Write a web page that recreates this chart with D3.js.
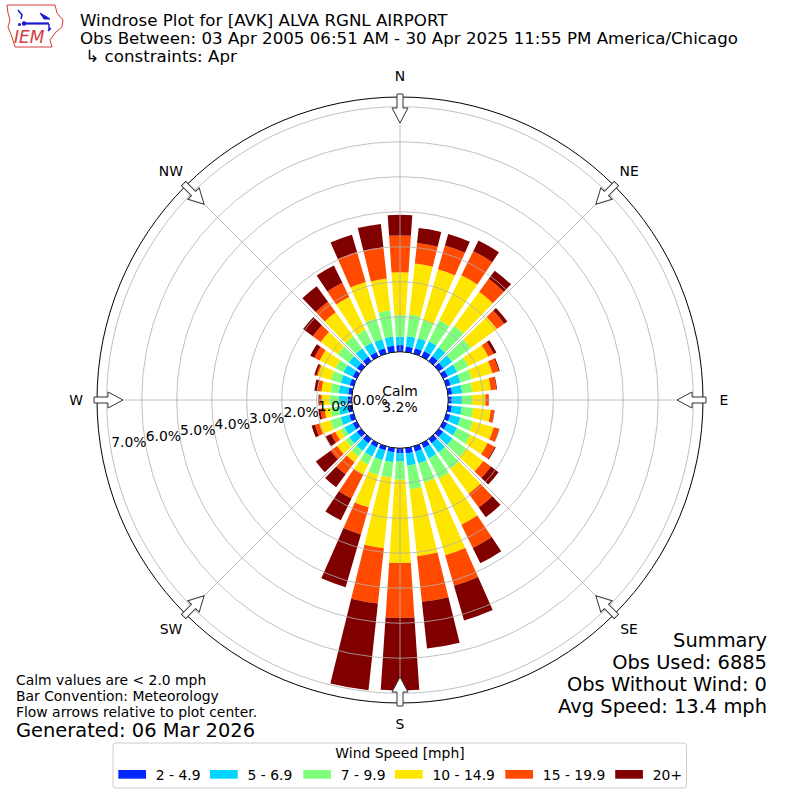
<!DOCTYPE html>
<html>
<head>
<meta charset="utf-8">
<script src="https://cdn.jsdelivr.net/npm/d3@7"></script>
<style>
  html, body { margin: 0; padding: 0; background: #fff; }
  svg text { font-family: "DejaVu Sans", sans-serif; fill: #000; }
</style>
</head>
<body>
<svg id="chart" width="800" height="800"></svg>
<script>
// ---------------- DATA ----------------
const directions = [0,10,20,30,40,50,60,70,80,90,100,110,120,130,140,150,160,170,
                    180,190,200,210,220,230,240,250,260,270,280,290,300,310,320,330,340,350];
const speedBins = ["2 - 4.9", "5 - 6.9", "7 - 9.9", "10 - 14.9", "15 - 19.9", "20+"];
// percent of observations per direction, per speed bin
const pct2to5 = [0.19,0.16,0.16,0.18,0.18,0.16,0.15,0.13,0.12,0.10,0.11,0.12,0.13,0.15,0.15,0.15,0.16,0.16,
                 0.14,0.12,0.12,0.13,0.15,0.15,0.13,0.13,0.12,0.11,0.11,0.12,0.13,0.15,0.15,0.15,0.16,0.18];
const pct5to7 = [0.24,0.29,0.30,0.31,0.31,0.31,0.29,0.29,0.29,0.29,0.29,0.30,0.31,0.33,0.33,0.33,0.34,0.34,
                 0.24,0.29,0.29,0.29,0.27,0.27,0.26,0.26,0.26,0.26,0.27,0.27,0.29,0.29,0.30,0.29,0.27,0.26];
const pct7to10 = [0.62,0.63,0.53,0.67,0.76,0.66,0.36,0.34,0.29,0.29,0.32,0.37,0.43,0.49,0.57,0.64,0.57,0.69,
                  0.52,0.44,0.44,0.26,0.20,0.14,0.12,0.31,0.24,0.26,0.24,0.29,0.26,0.39,0.43,0.42,0.62,0.75];
const pct10to15 = [1.22,1.46,1.52,1.43,1.20,0.92,0.63,0.61,0.53,0.38,0.51,0.62,0.54,0.60,0.89,1.47,2.17,1.92,
                   2.38,2.03,0.97,0.31,0.20,0.29,0.17,0.32,0.17,0.23,0.26,0.39,0.50,0.60,0.85,1.04,1.08,0.92];
const pct15to20 = [1.05,0.59,0.71,0.77,0.46,0.26,0.17,0.19,0.16,0.09,0.10,0.16,0.23,0.27,0.49,0.74,0.91,1.31,
                   1.57,1.59,0.80,0.77,0.43,0.23,0.14,0.13,0.12,0.06,0.11,0.04,0.17,0.28,0.37,0.45,0.89,0.90];
const pct20plus = [0.59,0.43,0.34,0.34,0.29,0.11,0.09,0.03,0.02,0.01,0.01,0.01,0.03,0.27,0.34,0.49,1.03,1.34,
                   2.07,2.49,1.57,0.69,0.46,0.52,0.17,0.10,0.06,0.03,0.09,0.06,0.13,0.34,0.55,0.55,0.52,0.67];
const radialTicks = [0,1,2,3,4,5,6,7];
const compassLabels = ["N","NE","E","SE","S","SW","W","NW"];
const compassAngles = [0,45,90,135,180,225,270,315];
const calmPct = 3.2;
const titleLines = ["Windrose Plot for [AVK] ALVA RGNL AIRPORT",
                    "Obs Between: 03 Apr 2005 06:51 AM - 30 Apr 2025 11:55 PM America/Chicago",
                    " \u21B3 constraints: Apr"];
const summaryLines = ["Summary", "Obs Used: 6885", "Obs Without Wind: 0", "Avg Speed: 13.4 mph"];
const noteLines = ["Calm values are < 2.0 mph", "Bar Convention: Meteorology", "Flow arrows relative to plot center."];
const generatedText = "Generated: 06 Mar 2026";
const legendTitle = "Wind Speed [mph]";

// ---------------- STYLE ----------------
const binColors = ["#0028ff", "#00d4ff", "#7dff7a", "#ffe600", "#ff4a00", "#800000"];
const cx = 400, cy = 400;
const calmR = 48.3, pxPerPct = 35, outerR = 303;
const fs10 = 13.9, fs12 = 16.67, fs14 = 19.44;

const svg = d3.select("#chart");
const rScale = d3.scaleLinear().domain([0, 7]).range([calmR, calmR + 7 * pxPerPct]);
const rad = d => d * Math.PI / 180;

// table
const series = [pct2to5, pct5to7, pct7to10, pct10to15, pct15to20, pct20plus];
const table = directions.map((d, i) => {
  const row = { dir: d };
  speedBins.forEach((k, j) => row[k] = series[j][i]);
  return row;
});
const stacked = d3.stack().keys(speedBins)(table);

const g = svg.append("g").attr("transform", `translate(${cx},${cy})`);

// bars
const halfW = 3.8;
const arc = d3.arc();
stacked.forEach((layer, j) => {
  g.append("g").selectAll("path").data(layer).join("path")
    .attr("d", d => arc({
      innerRadius: rScale(d[0]), outerRadius: rScale(d[1]),
      startAngle: rad(d.data.dir - halfW), endAngle: rad(d.data.dir + halfW)
    }))
    .attr("fill", binColors[j]);
});

// grid circles
g.append("g").selectAll("circle").data(radialTicks.filter(t => t > 0)).join("circle")
  .attr("r", d => rScale(d)).attr("fill", "none")
  .attr("stroke", "#b0b0b0").attr("stroke-width", 0.8);
// radial lines
g.append("g").selectAll("line").data(compassAngles).join("line")
  .attr("x1", 0).attr("y1", 0)
  .attr("x2", d => outerR * Math.sin(rad(d)))
  .attr("y2", d => -outerR * Math.cos(rad(d)))
  .attr("stroke", "#b0b0b0").attr("stroke-width", 0.8);
// outer circle
g.append("circle").attr("r", outerR).attr("fill", "none").attr("stroke", "#000").attr("stroke-width", 1);
// calm circle
g.append("circle").attr("r", calmR).attr("fill", "#fff").attr("stroke", "#000").attr("stroke-width", 1);
g.append("text").attr("x", 0).attr("y", -4).attr("text-anchor", "middle").attr("font-size", fs10).text("Calm");
g.append("text").attr("x", 0).attr("y", 12).attr("text-anchor", "middle").attr("font-size", fs10).text(calmPct.toFixed(1) + "%");

// radial tick labels at 260 deg
const labAng = rad(260);
g.append("g").selectAll("text").data(radialTicks).join("text")
  .attr("x", d => rScale(d) * Math.sin(labAng))
  .attr("y", d => -rScale(d) * Math.cos(labAng) - 3.5)
  .attr("font-size", fs10)
  .text(d => d.toFixed(1) + "%");

// arrows
const arrowPath = "M-3,-306 L3,-306 L3,-292 L8,-292 L0,-277 L-8,-292 L-3,-292 Z";
g.append("g").selectAll("path").data(compassAngles).join("path")
  .attr("d", arrowPath)
  .attr("transform", d => `rotate(${d})`)
  .attr("fill", "#fff").attr("stroke", "#333").attr("stroke-width", 1);

// compass labels
g.append("g").selectAll("text").data(compassAngles).join("text")
  .attr("x", d => 324 * Math.sin(rad(d)))
  .attr("y", d => -324 * Math.cos(rad(d)))
  .attr("text-anchor", "middle").attr("dominant-baseline", "central")
  .attr("font-size", fs10)
  .text((d, i) => compassLabels[i]);

// title
svg.append("g").selectAll("text").data(titleLines).join("text")
  .attr("x", 80).attr("y", (d, i) => 26 + i * 18)
  .attr("font-size", fs12)
  .style("white-space", "pre")
  .text(d => d);

// logo
const logo = svg.append("g");
logo.append("path")
  .attr("d", "M7,5 L55,5 L57,13 L63,20 L62,27 L55,33 L50,40 L52,47 L15,47 L12,37 L8,27 L10,20 L8,13 Z")
  .attr("fill", "none").attr("stroke", "#d23c3c").attr("stroke-width", 1);
logo.append("path").attr("d", "M22,23.5 L49,23.5").attr("stroke", "#1a1ad0").attr("stroke-width", 2.2);
logo.append("path").attr("d", "M18,10 L22,15 L21,19").attr("fill", "none").attr("stroke", "#1a1ad0").attr("stroke-width", 1.5);
logo.append("path").attr("d", "M40,13 L47,17 L50,19 L44,19 Z").attr("fill", "#1a1ad0").attr("stroke", "#1a1ad0").attr("stroke-width", 1);
logo.append("path").attr("d", "M49,24 L49,31 M51,28 L48,31").attr("fill", "none").attr("stroke", "#1a1ad0").attr("stroke-width", 1.5);
logo.append("circle").attr("cx", 24).attr("cy", 23.5).attr("r", 2.2).attr("fill", "#1a1ad0");
logo.append("circle").attr("cx", 19.5).attr("cy", 24.5).attr("r", 1.5).attr("fill", "#1a1ad0");
logo.append("text").attr("x", 14).attr("y", 43)
  .attr("font-family", "Liberation Serif, serif").attr("font-style", "italic")
  .attr("font-size", 17).style("fill", "#d23c3c").text("IEM");

// summary
svg.append("g").selectAll("text").data(summaryLines).join("text")
  .attr("x", 767).attr("y", (d, i) => 647 + i * 22)
  .attr("text-anchor", "end").attr("font-size", fs14).text(d => d);

// notes
svg.append("g").selectAll("text").data(noteLines).join("text")
  .attr("x", 16).attr("y", (d, i) => 685 + i * 15.8)
  .attr("font-size", fs10).text(d => d);
svg.append("text").attr("x", 16).attr("y", 736.5).attr("font-size", fs14).text(generatedText);

// legend
const leg = svg.append("g");
leg.append("rect").attr("x", 113).attr("y", 743).attr("width", 573.5).attr("height", 45)
  .attr("rx", 3).attr("fill", "#fff").attr("stroke", "#cccccc").attr("stroke-width", 1);
leg.append("text").attr("x", 400).attr("y", 758).attr("text-anchor", "middle")
  .attr("font-size", fs10).text(legendTitle);
const legX = [118.3, 210, 303.3, 395, 505.3, 615.2];
const items = leg.selectAll("g.item").data(speedBins).join("g").attr("class", "item")
  .attr("transform", (d, i) => `translate(${legX[i]},0)`);
items.append("rect").attr("x", 0).attr("y", 770).attr("width", 27.7).attr("height", 8.7)
  .attr("fill", (d, i) => binColors[i]);
items.append("text").attr("x", 37.5).attr("y", 779.5).attr("font-size", fs10).text(d => d);
</script>
</body>
</html>
